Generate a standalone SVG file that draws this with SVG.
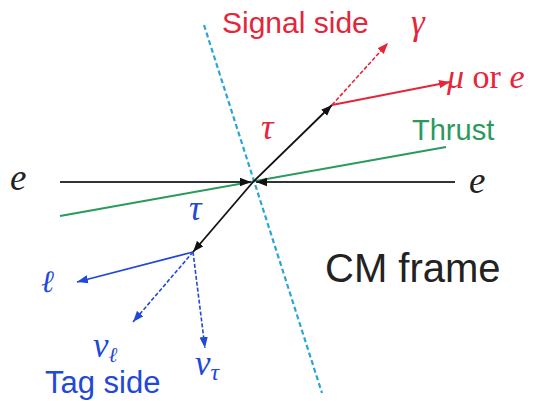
<svg xmlns="http://www.w3.org/2000/svg" width="543" height="401" viewBox="0 0 543 401">
<style>
.sans{font-family:"Liberation Sans",Arial,sans-serif}
.math{font-family:"Liberation Serif","DejaVu Serif",serif;font-style:italic}
.red{fill:#e3263a}
.blue{fill:#2148d6}
</style>
<defs>
<marker id="ak" markerUnits="userSpaceOnUse" markerWidth="12" markerHeight="10" refX="11" refY="5" orient="auto"><path d="M0,0.8 L11,5 L0,9.2 Z" fill="#111"/></marker>
<marker id="ar" markerUnits="userSpaceOnUse" markerWidth="12" markerHeight="10" refX="11" refY="5" orient="auto"><path d="M0,0.8 L11,5 L0,9.2 Z" fill="#e3263a"/></marker>
<marker id="ab" markerUnits="userSpaceOnUse" markerWidth="12" markerHeight="10" refX="11" refY="5" orient="auto"><path d="M0,0.8 L11,5 L0,9.2 Z" fill="#2148d6"/></marker>
</defs>
<rect width="543" height="401" fill="#fff"/>
<g id="connectors" fill="none">
<line id="cm-plane" x1="204" y1="25" x2="322" y2="393" stroke="#2aa6d6" stroke-width="2.2" stroke-dasharray="5,3"/>
<line id="thrust" x1="60" y1="216" x2="446" y2="147" stroke="#2a9a5c" stroke-width="2"/>
<line id="e-left" x1="60" y1="182" x2="251" y2="182" stroke="#333" stroke-width="2.2" marker-end="url(#ak)"/>
<line id="e-right" x1="455" y1="182" x2="256" y2="182" stroke="#333" stroke-width="2.2" marker-end="url(#ak)"/>
<line id="tau-signal" x1="253" y1="182" x2="332" y2="105" stroke="#111" stroke-width="1.8" marker-end="url(#ak)"/>
<line id="tau-tag" x1="253" y1="182" x2="193" y2="252" stroke="#111" stroke-width="1.8" marker-end="url(#ak)"/>
<line id="mu" x1="332" y1="105" x2="450" y2="82" stroke="#e3263a" stroke-width="1.8" marker-end="url(#ar)"/>
<line id="gamma" x1="332" y1="105" x2="388" y2="43" stroke="#e3263a" stroke-width="1.6" stroke-dasharray="4,2" marker-end="url(#ar)"/>
<line id="lep" x1="193" y1="252" x2="77" y2="282" stroke="#2148d6" stroke-width="1.8" marker-end="url(#ab)"/>
<line id="nul" x1="193" y1="252" x2="133" y2="322" stroke="#2148d6" stroke-width="1.6" stroke-dasharray="4,2" marker-end="url(#ab)"/>
<line id="nutau" x1="193" y1="252" x2="205" y2="348" stroke="#2148d6" stroke-width="1.6" stroke-dasharray="4,2" marker-end="url(#ab)"/>
</g>
<g id="labels">
<g id="signal-side"><text class="sans red" x="222" y="33" font-size="30">Signal side</text></g>
<g id="thrust-label"><text class="sans" x="412" y="140" font-size="29" fill="#2a9a5c">Thrust</text></g>
<g id="cm-frame"><text class="sans" x="325" y="282" font-size="40" fill="#222">CM frame</text></g>
<g id="tag-side"><text class="sans blue" x="45" y="393" font-size="31">Tag side</text></g>
<g id="e-left-label"><text class="math" x="10" y="190" font-size="37" fill="#222">e</text></g>
<g id="e-right-label"><text class="math" x="469" y="193" font-size="37" fill="#222">e</text></g>
<g id="tau-red"><text class="math red" x="261" y="139" font-size="35">τ</text></g>
<g id="tau-blue"><text class="math blue" x="189" y="220" font-size="35">τ</text></g>
<g id="gamma-label"><text class="math red" x="411" y="34" font-size="35">γ</text></g>
<g id="mu-label"><text class="red" x="447" y="88" font-size="34" font-family="Liberation Serif,DejaVu Serif,serif"><tspan font-style="italic">μ</tspan> or <tspan font-style="italic">e</tspan></text></g>
<g id="ell-label"><text class="math blue" x="41" y="292" font-size="31" font-family="DejaVu Serif,serif">ℓ</text></g>
<g id="nul-label"><text class="math blue" x="93" y="357" font-size="35">ν<tspan font-size="21" dy="5" font-family="DejaVu Serif,serif">ℓ</tspan></text></g>
<g id="nutau-label"><text class="math blue" x="195" y="375" font-size="35">ν<tspan font-size="24" dy="5">τ</tspan></text></g>
</g>
</svg>
